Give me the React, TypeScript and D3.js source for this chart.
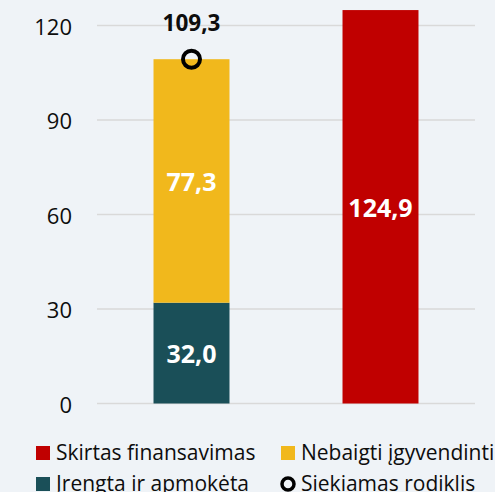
import React from "react";
import * as d3 from "d3";

const categories = ["Įgyvendinimas", "Finansavimas"];
const installedPaid = [32.0, 0];
const unfinished = [77.3, 0];
const allocated = [0, 124.9];
const targetValue = [109.3, null];
const yTicks = [0, 30, 60, 90, 120];
const legendLabels = ["Skirtas finansavimas", "Nebaigti įgyvendinti", "Įrengta ir apmokėta", "Siekiamas rodiklis"];

const W = 495;
const H = 492;
const FONT = "'Open Sans', sans-serif";
const fmt = (v: number) => v.toFixed(1).replace(".", ",");

export default function App() {
  const y = d3.scaleLinear().domain([0, 120]).range([403.5, 25.5]);
  const x = d3.scaleBand<string>().domain(categories).range([97, 475]).paddingInner(0.598).paddingOuter(0.299);
  const bw = x.bandwidth();

  const colors = { red: "#c00000", yellow: "#f1b81c", teal: "#1a4f58" };

  return (
    <svg width={W} height={H} style={{ position: "absolute", left: 0, top: 0 }} fontFamily={FONT}>
      <rect x={0} y={0} width={W} height={H} fill="#eff3f7" />
      {yTicks.map((t) => (
        <g key={t}>
          <line x1={97} x2={475} y1={y(t)} y2={y(t)} stroke="#d9d9d9" strokeWidth={1.5} />
          <text x={72} y={y(t)} textAnchor="end" dominantBaseline="central" fontSize={22} fill="#0d0d0d">
            {t}
          </text>
        </g>
      ))}
      {categories.map((c, i) => {
        const x0 = x(c)!;
        const cx = x0 + bw / 2;
        const items: React.ReactNode[] = [];
        if (installedPaid[i] > 0) {
          items.push(
            <rect key="t" x={x0} width={bw} y={y(installedPaid[i])} height={y(0) - y(installedPaid[i])} fill={colors.teal} />
          );
          items.push(
            <text key="tl" x={cx} y={(y(installedPaid[i]) + y(0)) / 2} textAnchor="middle" dominantBaseline="central" fontSize={25} fontWeight="bold" fill="#fff">
              {fmt(installedPaid[i])}
            </text>
          );
        }
        if (unfinished[i] > 0) {
          const top = installedPaid[i] + unfinished[i];
          items.push(
            <rect key="y" x={x0} width={bw} y={y(top)} height={y(installedPaid[i]) - y(top)} fill={colors.yellow} />
          );
          items.push(
            <text key="yl" x={cx} y={(y(top) + y(installedPaid[i])) / 2} textAnchor="middle" dominantBaseline="central" fontSize={25} fontWeight="bold" fill="#fff">
              {fmt(unfinished[i])}
            </text>
          );
        }
        if (allocated[i] > 0) {
          items.push(
            <rect key="r" x={x0} width={bw} y={y(allocated[i])} height={y(0) - y(allocated[i])} fill={colors.red} />
          );
          items.push(
            <text key="rl" x={cx} y={(y(allocated[i]) + y(0)) / 2} textAnchor="middle" dominantBaseline="central" fontSize={25} fontWeight="bold" fill="#fff">
              {fmt(allocated[i])}
            </text>
          );
        }
        const tv = targetValue[i];
        if (tv != null) {
          items.push(<circle key="c" cx={cx} cy={y(tv)} r={8.5} fill="none" stroke="#000" strokeWidth={4} />);
          items.push(
            <text key="cl" x={cx} y={y(tv) - 28} textAnchor="middle" fontSize={22.5} fontWeight="bold" fill="#0d0d0d">
              {fmt(tv)}
            </text>
          );
        }
        return <g key={c}>{items}</g>;
      })}
      <g fontSize={21} fill="#0d0d0d">
        <rect x={36} y={446} width={14} height={14} fill={colors.red} />
        <text x={56} y={460}>{legendLabels[0]}</text>
        <rect x={281} y={446} width={14} height={14} fill={colors.yellow} />
        <text x={301} y={460}>{legendLabels[1]}</text>
        <rect x={36} y={477} width={14} height={14} fill={colors.teal} />
        <text x={56} y={491}>{legendLabels[2]}</text>
        <circle cx={288} cy={484} r={6} fill="none" stroke="#000" strokeWidth={3.5} />
        <text x={301} y={491}>{legendLabels[3]}</text>
      </g>
    </svg>
  );
}
